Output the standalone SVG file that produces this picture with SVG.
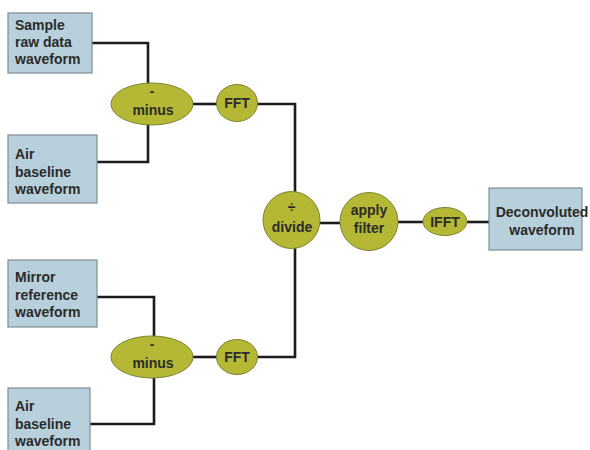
<svg xmlns="http://www.w3.org/2000/svg" width="590" height="450" viewBox="0 0 590 450">
<style>
.box{fill:#b8d0dc;stroke:#7d8c93;stroke-width:1.2}
.op{fill:#b4b834;stroke:#7f8230;stroke-width:1}
.t{font-family:"Liberation Sans",Arial,sans-serif;font-weight:bold;font-size:14px;fill:#2b2b2b}
.c{text-anchor:middle}
.w{fill:none;stroke:#1c1c1c;stroke-width:2.6}
</style>
<rect width="590" height="450" fill="#ffffff"/>
<g id="connectors">
<polyline class="w" points="92,43 148,43 148,84"/>
<polyline class="w" points="97,162 148,162 148,124"/>
<line class="w" x1="193" y1="104" x2="217" y2="104"/>
<polyline class="w" points="257,104 295,104 295,192"/>
<line class="w" x1="320" y1="223" x2="340" y2="223"/>
<line class="w" x1="398" y1="222" x2="423" y2="222"/>
<line class="w" x1="467" y1="222" x2="489" y2="222"/>
<polyline class="w" points="97,297 154,297 154,337"/>
<polyline class="w" points="90,424 154,424 154,377"/>
<line class="w" x1="193" y1="357" x2="217" y2="357"/>
<polyline class="w" points="257,357 295,357 295,248"/>
</g>
<g id="sample">
<rect class="box" x="8" y="13" width="84" height="60"/>
<text class="t" x="15" y="30">Sample</text>
<text class="t" x="15" y="47">raw data</text>
<text class="t" x="15" y="64">waveform</text>
</g>
<g id="air1">
<rect class="box" x="8" y="135" width="89" height="68"/>
<text class="t" x="15" y="159">Air</text>
<text class="t" x="15" y="177">baseline</text>
<text class="t" x="15" y="194">waveform</text>
</g>
<g id="minus1">
<ellipse class="op" cx="152" cy="104" rx="41" ry="21"/>
<text class="t c" x="152" y="96">-</text>
<text class="t c" x="153" y="115">minus</text>
</g>
<g id="fft1">
<ellipse class="op" cx="237" cy="103" rx="20.5" ry="18.5"/>
<text class="t c" x="237" y="108">FFT</text>
</g>
<g id="mirror">
<rect class="box" x="8" y="260" width="89" height="67"/>
<text class="t" x="15" y="282">Mirror</text>
<text class="t" x="15" y="300">reference</text>
<text class="t" x="15" y="317">waveform</text>
</g>
<g id="air2">
<rect class="box" x="8" y="388" width="82" height="66"/>
<text class="t" x="15" y="411">Air</text>
<text class="t" x="15" y="429">baseline</text>
<text class="t" x="15" y="446">waveform</text>
</g>
<g id="minus2">
<ellipse class="op" cx="152" cy="357" rx="41" ry="21"/>
<text class="t c" x="152" y="349">-</text>
<text class="t c" x="153" y="368">minus</text>
</g>
<g id="fft2">
<ellipse class="op" cx="237" cy="357" rx="20.5" ry="17.5"/>
<text class="t c" x="237" y="362">FFT</text>
</g>
<g id="divide">
<circle class="op" cx="291.5" cy="220" r="28.5"/>
<text class="t c" x="291.5" y="212">÷</text>
<text class="t c" x="292" y="232">divide</text>
</g>
<g id="filter">
<circle class="op" cx="369" cy="221.5" r="29"/>
<text class="t c" x="369" y="215">apply</text>
<text class="t c" x="369" y="233">filter</text>
</g>
<g id="ifft">
<ellipse class="op" cx="445" cy="221.5" rx="22" ry="14"/>
<text class="t c" x="445" y="226.5">IFFT</text>
</g>
<g id="deconv">
<rect class="box" x="489" y="188" width="93" height="62"/>
<text class="t c" x="542" y="217">Deconvoluted</text>
<text class="t c" x="542" y="235">waveform</text>
</g>
</svg>
